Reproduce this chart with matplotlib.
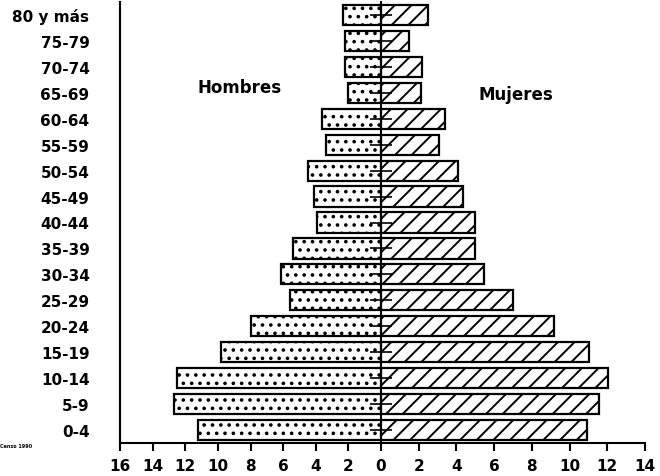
import matplotlib
matplotlib.use("Agg")
import matplotlib.pyplot as plt
import numpy as np

# grupos de edad, de abajo hacia arriba
grupos = ['0-4', '5-9', '10-14', '15-19', '20-24', '25-29', '30-34', '35-39',
          '40-44', '45-49', '50-54', '55-59', '60-64', '65-69', '70-74',
          '75-79', '80 y más']
hombres = [11.2, 12.7, 12.5, 9.8, 8.0, 5.6, 6.1, 5.4,
           3.9, 4.1, 4.5, 3.4, 3.6, 2.0, 2.2, 2.2, 2.3]
mujeres = [10.95, 11.55, 12.05, 11.05, 9.15, 7.0, 5.45, 5.0,
           5.0, 4.35, 4.1, 3.1, 3.4, 2.1, 2.2, 1.5, 2.5]
ticks_h = [16, 14, 12, 10, 8, 6, 4, 2]
ticks_m = [0, 2, 4, 6, 8, 10, 12, 14]

plt.rcParams['font.family'] = 'DejaVu Sans'
plt.rcParams['font.weight'] = 'bold'
plt.rcParams['hatch.linewidth'] = 1.4

fig = plt.figure(figsize=(6.6, 4.77), dpi=100)
W, H = 660.0, 477.0
bottom = (H - 444) / H
height = (444 - 3) / H
axL = fig.add_axes([120 / W, bottom, (381 - 120) / W, height])
axR = fig.add_axes([381 / W, bottom, (645 - 381) / W, height])

y = np.arange(len(grupos))

axL.barh(y, hombres, height=0.78, color='white', edgecolor='black',
         linewidth=1.6, hatch='..')
axR.barh(y, mujeres, height=0.78, color='white', edgecolor='black',
         linewidth=1.6, hatch='//')

axL.set_xlim(16, 0)
axR.set_xlim(0, 14)
for ax in (axL, axR):
    ax.set_ylim(-0.5, 16.5)
    ax.spines['top'].set_visible(False)
    ax.spines['right'].set_visible(False)
    ax.spines['left'].set_linewidth(1.5)
    ax.spines['bottom'].set_linewidth(1.5)
    ax.tick_params(axis='x', direction='out', length=6, width=1.5,
                   labelsize=11, pad=5)

axL.set_xticks(ticks_h)
axL.set_xticklabels([str(t) for t in ticks_h], fontweight='bold')
axR.set_xticks(ticks_m)
axR.set_xticklabels([str(t) for t in ticks_m], fontweight='bold')

axL.set_yticks(y)
axL.set_yticklabels(grupos, fontweight='bold', fontsize=11)
axL.tick_params(axis='y', length=0, pad=22)

# linea central con marcas
axR.set_yticks(y)
axR.set_yticklabels([])
axR.tick_params(axis='y', direction='inout', length=16, width=1.2)

fig.text(240 / W, 1 - 88 / H, 'Hombres', ha='center', va='center',
         fontsize=12, fontweight='bold')
fig.text(516 / W, 1 - 95 / H, 'Mujeres', ha='center', va='center',
         fontsize=12, fontweight='bold')
fig.text(0.0, 1 - 447 / H, 'Censo 1990', ha='left', va='center',
         fontsize=3.5, fontweight='bold')

fig.savefig('out.png', dpi=100)
